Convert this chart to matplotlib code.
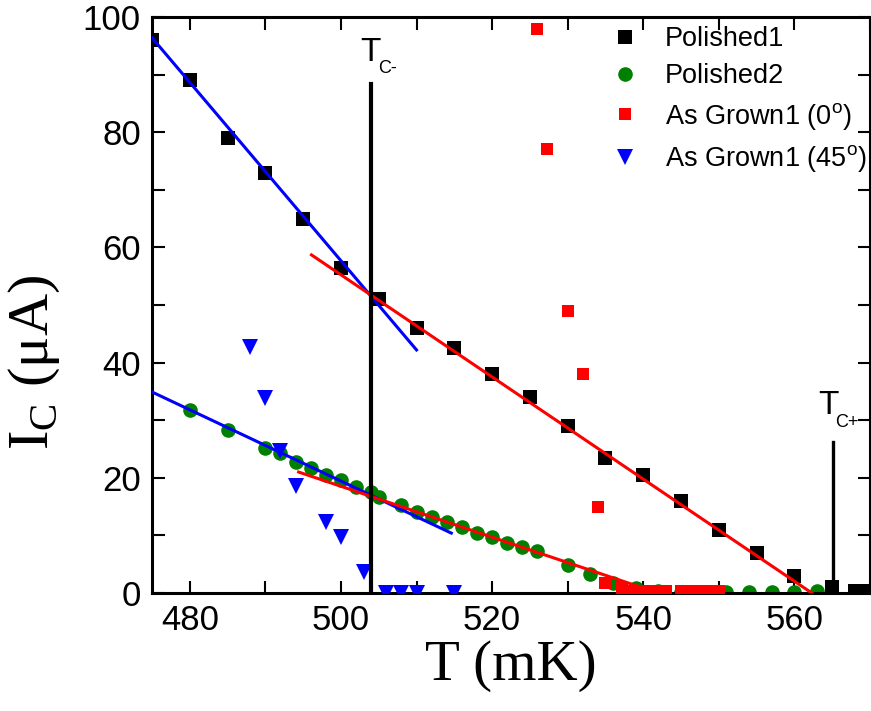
import numpy as np
import matplotlib.pyplot as plt
from matplotlib.ticker import MultipleLocator

plt.rcParams['font.family'] = ['Liberation Sans', 'DejaVu Sans']
plt.rcParams['mathtext.fontset'] = 'custom'
plt.rcParams['mathtext.rm'] = 'Liberation Sans'

# Polished1 (black squares)
p1_T = [475, 480, 485, 490, 495, 500, 505, 510, 515, 520, 525, 530, 535, 540,
        545, 550, 555, 560, 565, 568, 569.7]
p1_I = [96, 89, 79, 73, 65, 56.5, 51, 46, 42.5, 38, 34, 29, 23.5, 20.5,
        16, 11, 7, 3, 1, 0.3, 0.3]

# Polished2 (green circles)
p2_T = [480, 485, 490, 492, 494, 496, 498, 500, 502, 504, 505, 508, 510, 512,
        514, 516, 518, 520, 522, 524, 526, 530, 533, 536, 539, 542, 545, 548,
        551, 554, 557, 560, 563]
p2_I = [31.8, 28.3, 25.2, 24.3, 22.8, 21.7, 20.5, 19.6, 18.4, 17.5, 16.7, 15.2,
        14.0, 13.2, 12.3, 11.5, 10.4, 9.7, 8.7, 8.0, 7.3, 4.9, 3.3, 1.8, 0.8,
        0.3, 0.2, 0.2, 0.1, 0.1, 0.1, 0.1, 0.3]

# As Grown1 (0 deg) (red squares)
ag0_T = [526, 527.2, 530, 532, 534, 535, 537.2, 538, 539, 540, 541, 542, 543,
         545, 546, 547, 548, 549, 550]
ag0_I = [98, 77, 49, 38, 15, 1.7, 0.9, 0.3, 0.3, 0.3, 0.3, 0.3, 0.3,
         0.3, 0.3, 0.3, 0.3, 0.3, 0.3]

# As Grown1 (45 deg) (blue triangles)
ag45_T = [488, 490, 492, 494, 498, 500, 503, 506, 508, 510, 515]
ag45_I = [42.7, 33.9, 24.7, 18.6, 12.3, 9.7, 3.6, 0, 0, 0, 0]

# linear fits (end points)
fit_p1_low_T, fit_p1_low_I = [475, 510], [96.4, 42.2]
fit_p1_high_T, fit_p1_high_I = [496.1, 562.3], [58.7, 0]
fit_p2_low_T, fit_p2_low_I = [475, 514.6], [34.9, 10.4]
fit_p2_high_T, fit_p2_high_I = [494.4, 541.5], [21.0, 0.2]

# transition markers
tc_minus, tc_minus_top = 504, 88.4
tc_plus, tc_plus_top = 565.1, 26.2

fig = plt.figure(figsize=(8.71, 7.11), dpi=100)
ax = fig.add_axes([152 / 871, 118 / 711, 718 / 871, 576 / 711])

ax.plot(p1_T, p1_I, 's', color='black', ms=9.4, mew=0, label='Polished1', zorder=3)
ax.plot(p2_T, p2_I, 'o', color='#008000', ms=10.5, mew=0, label='Polished2', zorder=2)
ax.plot(ag0_T, ag0_I, 's', color='#ff0000', ms=8.6, mew=0,
        label=r'As Grown1 (0$^\mathregular{o}$)', zorder=3)
ax.plot(ag45_T, ag45_I, 'v', color='#0000ff', ms=11, mew=0,
        label=r'As Grown1 (45$^\mathregular{o}$)', zorder=3)

ax.plot(fit_p1_low_T, fit_p1_low_I, color='#0000ff', lw=2.2, zorder=4)
ax.plot(fit_p1_high_T, fit_p1_high_I, color='#ff0000', lw=2.2, zorder=4)
ax.plot(fit_p2_low_T, fit_p2_low_I, color='#0000ff', lw=2.2, zorder=4)
ax.plot(fit_p2_high_T, fit_p2_high_I, color='#ff0000', lw=2.2, zorder=4)

ax.plot([tc_minus, tc_minus], [0, tc_minus_top], color='black', lw=3, zorder=5)
ax.plot([tc_plus, tc_plus], [0, tc_plus_top], color='black', lw=2.4, zorder=5)

ax.text(502.6, 92.4, 'T', fontsize=24, ha='left', va='baseline')
ax.text(504.9, 90.3, 'C-', fontsize=13, ha='left', va='baseline')
ax.text(563.2, 31.1, 'T', fontsize=24, ha='left', va='baseline')
ax.text(565.4, 28.8, 'C+', fontsize=13, ha='left', va='baseline')

ax.set_xlim(475, 570)
ax.set_ylim(0, 100)
ax.xaxis.set_major_locator(MultipleLocator(20))
ax.xaxis.set_minor_locator(MultipleLocator(10))
ax.yaxis.set_major_locator(MultipleLocator(20))
ax.yaxis.set_minor_locator(MultipleLocator(10))
ax.tick_params(which='both', direction='in', top=True, right=True,
               length=9, width=1.5, labelsize=25)
ax.tick_params(axis='x', which='major', pad=8)
ax.tick_params(axis='y', which='major', pad=8)
for s in ax.spines.values():
    s.set_linewidth(2.2)

serif = ['Liberation Serif', 'DejaVu Serif']
ax.set_xlabel('T (mK)', fontsize=41, family=serif, labelpad=2)
plt.rcParams['mathtext.rm'] = 'Liberation Serif'
ax.set_ylabel(r'I$_\mathregular{C}$ (μA)', fontsize=42, family=serif)
ax.yaxis.set_label_coords(-0.125, 0.40)

ax.legend(loc='upper left', bbox_to_anchor=(611 / 871, 1 - 26 / 711),
          bbox_transform=fig.transFigure, frameon=False,
          fontsize=19.5, handletextpad=0.98, labelspacing=0.42, borderpad=0,
          borderaxespad=0, handlelength=1.0)

fig.savefig('out.png', dpi=100)
